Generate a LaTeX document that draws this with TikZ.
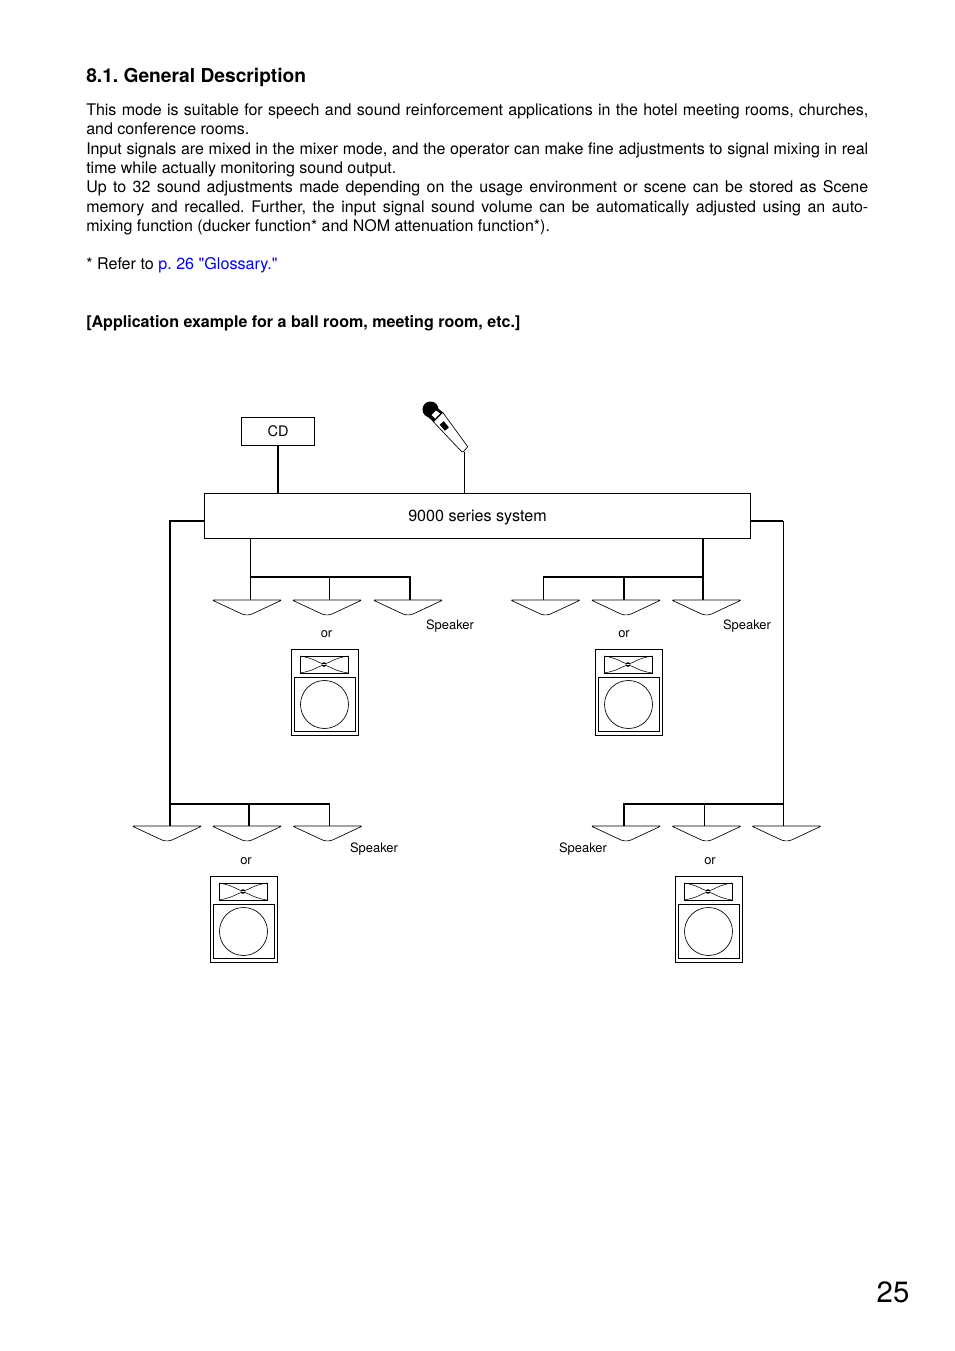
\documentclass[tikz,border=0pt]{standalone}
\usepackage{xcolor}
\usepackage{fontspec}
\setmainfont{TeX Gyre Heros}
\newfontfamily\quotefont{TeX Gyre Heros}
\usetikzlibrary{calc}

\begin{document}
\frenchspacing
\begin{tikzpicture}[
  x=0.75pt, y=-0.75pt,
  every node/.style={align=center, font=\fontsize{9.7}{12}\selectfont, inner sep=0pt},
  box/.style={draw, line width=0.55pt, fill=white, font=\fontsize{12.1}{14}\selectfont, text depth=0pt},
  para/.style={anchor=north west, align=justify, text width=586.5pt, font=\fontsize{12}{14.5}\selectfont},
  thinwire/.style={line width=0.6pt},
  thickwire/.style={line width=1.15pt},
  hornspeaker/.pic={
    \draw[line width=0.5pt, rounded corners=1pt, fill=white] (-35,0) -- (35,0) -- (4,14.5) -- (0,15) -- (-4,14.5) -- cycle;
  },
  cabinet/.pic={
    \draw[line width=0.5pt] (0,0) rectangle (67.5,86.5);
    \draw[line width=0.5pt] (9,7) rectangle (57,24);
    \draw[line width=0.4pt] (9,7) .. controls (22,9) and (26,13) .. (31,14.5) -- (35,14.5) .. controls (40,13) and (44,9) .. (57,7);
    \draw[line width=0.4pt] (9,24) .. controls (22,22) and (26,18) .. (31,16.5) -- (35,16.5) .. controls (40,18) and (44,22) .. (57,24);
    \draw[line width=0.4pt] (33,15.5) circle[radius=2];
    \draw[line width=0.5pt] (3,28) rectangle (64,82);
    \draw[line width=0.5pt] (33.5,55.5) circle[radius=24];
  }
]
\useasboundingbox (0,0) rectangle (954,1351);

% page text
\node[anchor=west, font=\fontsize{14.4}{17}\selectfont\bfseries] (title) at (86,77.5) {8.1. General Description};
\node[para] (body) at (86,103.5) {This mode is suitable for speech and sound reinforcement applications in the hotel meeting rooms, churches, and conference rooms.\\
Input signals are mixed in the mixer mode, and the operator can make fine adjustments to signal mixing in real time while actually monitoring sound output.\\
Up to 32 sound adjustments made depending on the usage environment or scene can be stored as Scene memory and recalled. Further, the input signal sound volume can be automatically adjusted using an auto-\linebreak mixing function (ducker function* and NOM attenuation function*).};
\node[anchor=west, font=\fontsize{12.1}{14.5}\selectfont] (refer) at (86,265) {* Refer to \textcolor{blue}{p. 26 {\quotefont"}Glossary.{\quotefont"}}};
\node[anchor=west, font=\fontsize{12.05}{14.5}\selectfont\bfseries] (example) at (86,323) {[Application example for a ball room, meeting room, etc.]};
\node[font=\fontsize{22}{26}\selectfont] (page) at (893,1292) {25};

% sources and system
\node[box, font=\fontsize{10.9}{14}\selectfont, minimum width=55pt, minimum height=21.5pt] (cd) at (278,431.5) {CD};
\node[box, minimum width=410pt, minimum height=34.25pt] (sys) at (477.5,516) {9000 series system};

% microphone
\draw[line width=0.5pt, fill=white] (442.7,412.3) -- (467.7,446.7) -- (463.5,451.7) -- (461.7,451.7) -- (433.3,421.7) -- cycle;
\fill (430.5,409.5) circle[radius=8];
\fill (427,416) -- (436,406.7) -- (443,412.5) -- (433.5,422) -- cycle;
\fill[white] (431.5,415) -- (436,410.5) -- (440,413.5) -- (435,418.5) -- cycle;
\node[fill=black, minimum width=6pt, minimum height=4pt, rotate=-50] (switch) at (444.3,426) {};
\coordinate (mictail) at (464,452);

\draw[thickwire] (cd) -- (cd |- sys.north);
\draw[thinwire] (mictail) -- (mictail |- sys.north);

% top left group
\pic at (247,600) {hornspeaker};
\pic at (327,600) {hornspeaker};
\pic at (408,600) {hornspeaker};
\coordinate (tlA) at (250,600);
\coordinate (tlB) at (329,600);
\coordinate (tlC) at (410,600);
\coordinate (tlBus) at (250,577);
\draw[thinwire] (tlA |- sys.south) -- (tlA);
\draw[thinwire] (tlB |- tlBus) -- (tlB);
\draw[thickwire] (tlA |- tlBus) -- (tlBus -| tlC) -- (tlC);
\node (spkTL) at (450,626.5) {Speaker};
\node (orTL) at (326.5,634.5) {or};
\pic at (291,649) {cabinet};

% top right group
\pic at (545.5,600) {hornspeaker};
\pic at (626,600) {hornspeaker};
\pic at (706.5,600) {hornspeaker};
\coordinate (trA) at (543.5,600);
\coordinate (trB) at (624,600);
\coordinate (trC) at (703,600);
\coordinate (trBus) at (703,577);
\draw[thickwire] (trC |- sys.south) -- (trC);
\draw[thickwire] (trB |- trBus) -- (trB);
\draw[thickwire] (trA) -- (trA |- trBus) -- (trBus);
\node (spkTR) at (747,626.5) {Speaker};
\node (orTR) at (624,634.5) {or};
\pic at (595,649) {cabinet};

% bottom left group
\pic at (167,826) {hornspeaker};
\pic at (247,826) {hornspeaker};
\pic at (327.5,826) {hornspeaker};
\coordinate (blA) at (170,826);
\coordinate (blB) at (249,826);
\coordinate (blC) at (329.5,826);
\coordinate (blBus) at (170,804);
\draw[thickwire] (sys.west |- 204,521) -- (170,521) -- (blA);
\draw[thickwire] (blB |- blBus) -- (blB);
\draw[thickwire] (blBus) -- (blBus -| blC);
\draw[thinwire] (blBus -| blC) -- (blC);
\node (spkBL) at (374,849.5) {Speaker};
\node (orBL) at (246,861.5) {or};
\pic at (210,876) {cabinet};

% bottom right group
\pic at (626,826) {hornspeaker};
\pic at (706.5,826) {hornspeaker};
\pic at (786.5,826) {hornspeaker};
\coordinate (brA) at (624,826);
\coordinate (brB) at (704.5,826);
\coordinate (brC) at (783,826);
\coordinate (brBus) at (783,804);
\draw[thickwire] (sys.east |- 751,521) -- (783,521);
\draw[thinwire] (783,521) -- (brC);
\draw[thickwire] (brA) -- (brA |- brBus) -- (brBus);
\draw[thinwire] (brB |- brBus) -- (brB);
\node (spkBR) at (583,849.5) {Speaker};
\node (orBR) at (710,861.5) {or};
\pic at (675,876) {cabinet};
\end{tikzpicture}
\end{document}
